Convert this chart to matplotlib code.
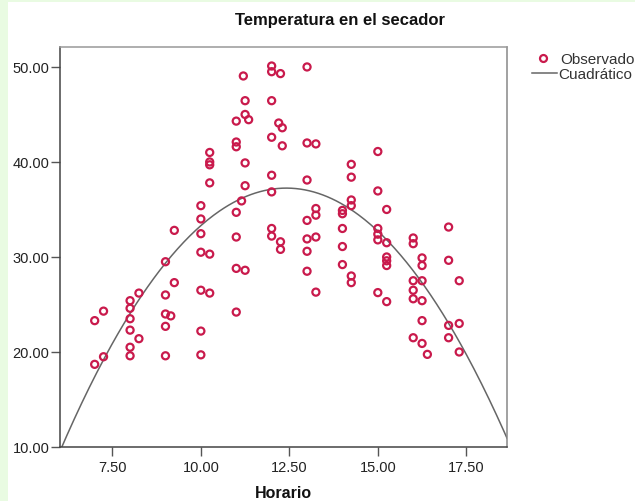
import matplotlib
matplotlib.use("Agg")
import matplotlib.pyplot as plt
import numpy as np
from matplotlib.patches import Rectangle
from matplotlib.lines import Line2D

# ---- data ----
hora = [7, 7,
        7.25, 7.25,
        8, 8, 8, 8, 8, 8,
        8.25, 8.25,
        9, 9, 9, 9, 9,
        9.15,
        9.25, 9.25,
        10, 10, 10, 10, 10, 10, 10,
        10.25, 10.25, 10.25, 10.25, 10.25, 10.25,
        11, 11, 11, 11, 11, 11, 11,
        11.15, 11.2,
        11.25, 11.25, 11.25, 11.25, 11.25,
        11.35,
        12, 12, 12, 12, 12, 12, 12, 12,
        12.2,
        12.25, 12.25, 12.25,
        12.3, 12.3,
        13, 13, 13, 13, 13, 13, 13,
        13.25, 13.25, 13.25, 13.25, 13.25,
        14, 14, 14, 14, 14,
        14.25, 14.25, 14.25, 14.25, 14.25, 14.25,
        15, 15, 15, 15, 15, 15,
        15.25, 15.25, 15.25, 15.25, 15.25, 15.25,
        16, 16, 16, 16, 16, 16,
        16.25, 16.25, 16.25, 16.25, 16.25, 16.25,
        16.4,
        17, 17, 17, 17,
        17.3, 17.3, 17.3]

temperatura = [23.3, 18.7,
               24.3, 19.5,
               25.4, 24.6, 23.5, 22.3, 20.5, 19.6,
               26.2, 21.4,
               29.5, 26.0, 24.0, 22.7, 19.6,
               23.8,
               32.8, 27.3,
               35.4, 34.0, 32.45, 30.5, 26.5, 22.2, 19.7,
               41.0, 40.0, 39.7, 37.8, 30.3, 26.2,
               44.3, 42.1, 41.6, 34.7, 32.1, 28.8, 24.2,
               35.9, 49.05,
               46.45, 45.0, 39.9, 37.5, 28.6,
               44.45,
               50.1, 49.5, 46.45, 42.6, 38.6, 36.85, 33.0, 32.2,
               44.1,
               49.3, 31.6, 30.8,
               43.6, 41.7,
               50.0, 42.0, 38.1, 33.85, 31.9, 30.6, 28.5,
               41.9, 35.1, 34.4, 32.1, 26.3,
               34.9, 34.55, 33.0, 31.1, 29.2,
               39.75, 38.4, 36.0, 35.4, 28.0, 27.3,
               41.1, 36.95, 33.0, 32.4, 31.8, 26.25,
               35.0, 31.5, 30.0, 29.6, 29.1, 25.3,
               32.0, 31.4, 27.5, 26.5, 25.6, 21.5,
               29.9, 29.1, 27.5, 25.4, 23.3, 20.9,
               19.75,
               33.15, 29.65, 22.8, 21.5,
               27.5, 23.0, 20.0]

# quadratic fit coefficients (b0 + b1*x + b2*x^2)
b0, b1, b2 = -67.1, 16.81, -0.677

x_ticks = [7.5, 10.0, 12.5, 15.0, 17.5]
y_ticks = [10, 20, 30, 40, 50]
title = "Temperatura en el secador"
xlabel = "Horario"
legend_labels = ["Observado", "Cuadrático"]

# ---- figure ----
plt.rcParams['font.family'] = ['Liberation Sans', 'DejaVu Sans']
W, H = 635, 502
fig = plt.figure(figsize=(W / 100, H / 100), dpi=100)
fig.patch.set_facecolor('white')

# light green border strips of the original screenshot
fig.patches.append(Rectangle((0, 0), 8 / W, 1, transform=fig.transFigure,
                             facecolor='#e9fbe2', edgecolor='none', zorder=0))
fig.patches.append(Rectangle((0, 1 - 3 / H), 1, 3 / H, transform=fig.transFigure,
                             facecolor='#e9fbe2', edgecolor='none', zorder=0))

ax = fig.add_axes([60 / W, (H - 448) / H, (507 - 60) / W, (448 - 48) / H])

marker_col = '#c91a4c'
ax.scatter(hora, temperatura, s=26, facecolors='none', edgecolors=marker_col,
           linewidths=1.6, zorder=3)

xs = np.linspace(6.0, 18.65, 300)
ys = b0 + b1 * xs + b2 * xs ** 2
ax.plot(xs, ys, color='#666666', lw=1.1, zorder=2)

ax.set_xlim(6.02, 18.65)
ax.set_ylim(10.0, 52.1)
ax.set_xticks(x_ticks)
ax.set_yticks(y_ticks)
ax.set_xticklabels([f"{v:.2f}" for v in x_ticks])
ax.set_yticklabels([f"{v:.2f}" for v in y_ticks])
ax.tick_params(axis='both', direction='out', length=6.5, width=1,
               color='#555555', labelsize=10.5, labelcolor='#222222')
ax.tick_params(axis='x', pad=3)
ax.tick_params(axis='y', pad=1)
for s in ax.spines.values():
    s.set_color('#444444')
    s.set_linewidth(1.1)
ax.spines['top'].set_color('#999999')
ax.spines['right'].set_color('#888888')

fig.text(340 / W, 1 - 20 / H, title, ha='center', va='center',
         fontsize=12, fontweight='bold', color='#111111')
fig.text(283 / W, 1 - 494 / H, xlabel, ha='center', va='center',
         fontsize=11.5, fontweight='bold', color='#111111')

# legend (drawn at fixed place, partly cut by figure edge as in original)
fig.lines.append(Line2D([543 / W], [1 - 59 / H], transform=fig.transFigure,
                        marker='o', markersize=5, markerfacecolor='none',
                        markeredgecolor=marker_col, markeredgewidth=1.6,
                        linestyle='none'))
fig.text(560 / W, 1 - 60 / H, legend_labels[0], ha='left', va='center',
         fontsize=11, color='#333333')
fig.lines.append(Line2D([532 / W, 557 / W], [1 - 74 / H, 1 - 74 / H],
                        transform=fig.transFigure, color='#666666', lw=1.1))
fig.text(558 / W, 1 - 75 / H, legend_labels[1], ha='left', va='center',
         fontsize=11, color='#333333')

fig.savefig("out.png", dpi=100)
